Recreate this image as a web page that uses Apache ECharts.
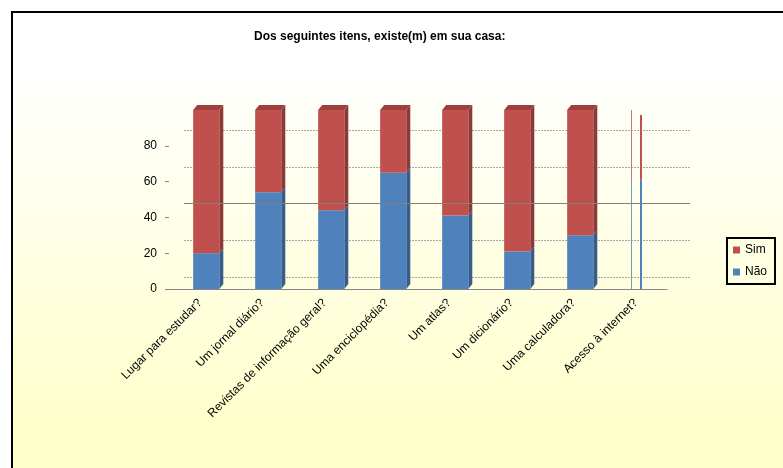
<!DOCTYPE html>
<html>
<head>
<meta charset="utf-8">
<title>Dos seguintes itens, existe(m) em sua casa:</title>
<script src="https://cdn.jsdelivr.net/npm/echarts@6/dist/echarts.min.js"></script>
<style>
  html, body { margin: 0; padding: 0; background: #ffffff; }
  #chart { width: 783px; height: 468px; }
</style>
</head>
<body>
<div id="chart"></div>
<script>
// Survey items
const categories = [
  'Lugar para estudar?',
  'Um jornal diário?',
  'Revistas de informação geral?',
  'Uma enciclopédia?',
  'Um atlas?',
  'Um dicionário?',
  'Uma calculadora?',
  'Acesso à internet?'
];
// Answers (%)
const naoValues = [20, 54, 44, 65, 41, 21, 30, 61];
const simValues = [80, 46, 56, 35, 59, 79, 70, 39];
// Value axis
const yTickValues = [0, 20, 40, 60, 80];
const wallMarkValue = 40;
const slimIndex = 7; // last column is drawn as a slim outline

const palette = {
  nao: { front: '#4F81BD', side: '#385D8A', top: '#3F6A9E' },
  sim: { front: '#C0504D', side: '#8C3A38', top: '#9E3F3C' }
};

const font = '"Liberation Sans", Arial, sans-serif';

function boxRenderer(pal, withTop) {
  return function (params, api) {
    const i = api.value(0);
    const p0 = api.coord([i, api.value(1)]);
    const p1 = api.coord([i, api.value(2)]);
    const band = api.size([1, 0])[0];
    const cx = Math.round(p0[0]);
    if (i === slimIndex) {
      return {
        type: 'group',
        children: [
          { type: 'line', shape: { x1: cx - 4.5, y1: p1[1], x2: cx - 4.5, y2: p0[1] },
            style: { stroke: pal.front, lineWidth: 1, opacity: 0.8 } },
          { type: 'line', shape: { x1: cx + 5, y1: p1[1] + (withTop ? 5 : 0), x2: cx + 5, y2: p0[1] },
            style: { stroke: pal.front, lineWidth: 2 } }
        ]
      };
    }
    const w = band * 0.42;
    const x = cx - w / 2 + band * 0.1;
    const dx = 4, dy = 5;
    const yt = p1[1], yb = p0[1];
    const children = [
      { type: 'polygon',
        shape: { points: [[x + w, yt], [x + w + dx, yt - dy], [x + w + dx, yb - dy], [x + w, yb]] },
        style: { fill: pal.side } },
      { type: 'rect', shape: { x: x, y: yt, width: w, height: yb - yt },
        style: { fill: pal.front } }
    ];
    if (withTop) {
      children.push({ type: 'polygon',
        shape: { points: [[x, yt], [x + dx, yt - dy], [x + w + dx, yt - dy], [x + w, yt]] },
        style: { fill: pal.top } });
    }
    return { type: 'group', children: children };
  };
}

const naoData = naoValues.map((v, i) => [i, 0, v]);
const simData = simValues.map((v, i) => [i, naoValues[i], naoValues[i] + v]);

const chart = echarts.init(document.getElementById('chart'), null, { renderer: 'canvas' });

chart.setOption({
  animation: false,
  backgroundColor: '#ffffff',
  graphic: [{
    type: 'rect',
    z: -10,
    silent: true,
    shape: { x: 12, y: 12, width: 790, height: 480 },
    style: {
      fill: new echarts.graphic.LinearGradient(0, 0, 0, 1, [
        { offset: 0, color: '#FFFFFF' },
        { offset: 0.12, color: '#FFFFFF' },
        { offset: 0.85, color: '#FFFFCC' },
        { offset: 1, color: '#FFFFCC' }
      ]),
      stroke: '#000000',
      lineWidth: 2
    }
  }],
  title: {
    text: 'Dos seguintes itens, existe(m) em sua casa:',
    left: 249,
    top: 26,
    textStyle: {
      fontFamily: font,
      fontSize: 12,
      fontWeight: 'bold',
      color: '#000000'
    }
  },
  legend: {
    orient: 'vertical',
    left: 727,
    top: 238,
    padding: [6, 8, 6, 6],
    borderColor: '#000000',
    borderWidth: 2,
    itemWidth: 7,
    itemHeight: 7,
    itemGap: 10,
    textStyle: { fontFamily: font, fontSize: 12, color: '#000000' },
    data: [{ name: 'Sim', icon: 'rect' }, { name: 'Não', icon: 'rect' }]
  },
  grid: [
    { left: 169, right: 116, top: 110, bottom: 179 },   // columns
    { left: 184, right: 93, top: 130, bottom: 191 }     // back wall
  ],
  xAxis: [{
    gridIndex: 0,
    type: 'category',
    data: categories,
    offset: 3,
    axisLine: { lineStyle: { color: '#868686', width: 1 } },
    axisTick: { length: 5, lineStyle: { color: '#868686' } },
    axisLabel: {
      interval: 0,
      rotate: 45,
      margin: 9,
      fontFamily: font,
      fontSize: 12,
      color: '#000000'
    }
  }, {
    gridIndex: 1,
    type: 'value',
    min: 0,
    max: 1,
    show: false
  }],
  yAxis: [{
    gridIndex: 0,
    type: 'value',
    min: 0,
    max: 100,
    interval: 20,
    axisLine: { show: false },
    axisTick: {
      show: true,
      length: 4,
      customValues: yTickValues,
      lineStyle: { color: '#868686' }
    },
    axisLabel: {
      customValues: yTickValues,
      margin: 12,
      fontFamily: font,
      fontSize: 12,
      color: '#000000'
    },
    splitLine: { show: false }
  }, {
    gridIndex: 1,
    type: 'value',
    min: 0,
    max: 80,
    interval: 20,
    axisLine: { show: false },
    axisTick: { show: false },
    axisLabel: { show: false },
    splitLine: { show: true, lineStyle: { color: '#A6A6A6', type: [2, 1], width: 1 } }
  }],
  series: [
    {
      type: 'line',
      xAxisIndex: 1,
      yAxisIndex: 1,
      data: [],
      silent: true,
      markLine: {
        silent: true,
        symbol: 'none',
        label: { show: false },
        lineStyle: { color: '#808080', type: 'solid', width: 1 },
        data: [{ yAxis: wallMarkValue }]
      }
    },
    {
      name: 'Não',
      type: 'custom',
      xAxisIndex: 0,
      yAxisIndex: 0,
      itemStyle: { color: palette.nao.front },
      encode: { x: 0, y: [1, 2] },
      data: naoData,
      renderItem: boxRenderer(palette.nao, false),
      z: 3
    },
    {
      name: 'Sim',
      type: 'custom',
      xAxisIndex: 0,
      yAxisIndex: 0,
      itemStyle: { color: palette.sim.front },
      encode: { x: 0, y: [1, 2] },
      data: simData,
      renderItem: boxRenderer(palette.sim, true),
      z: 3
    }
  ]
});
</script>
</body>
</html>
